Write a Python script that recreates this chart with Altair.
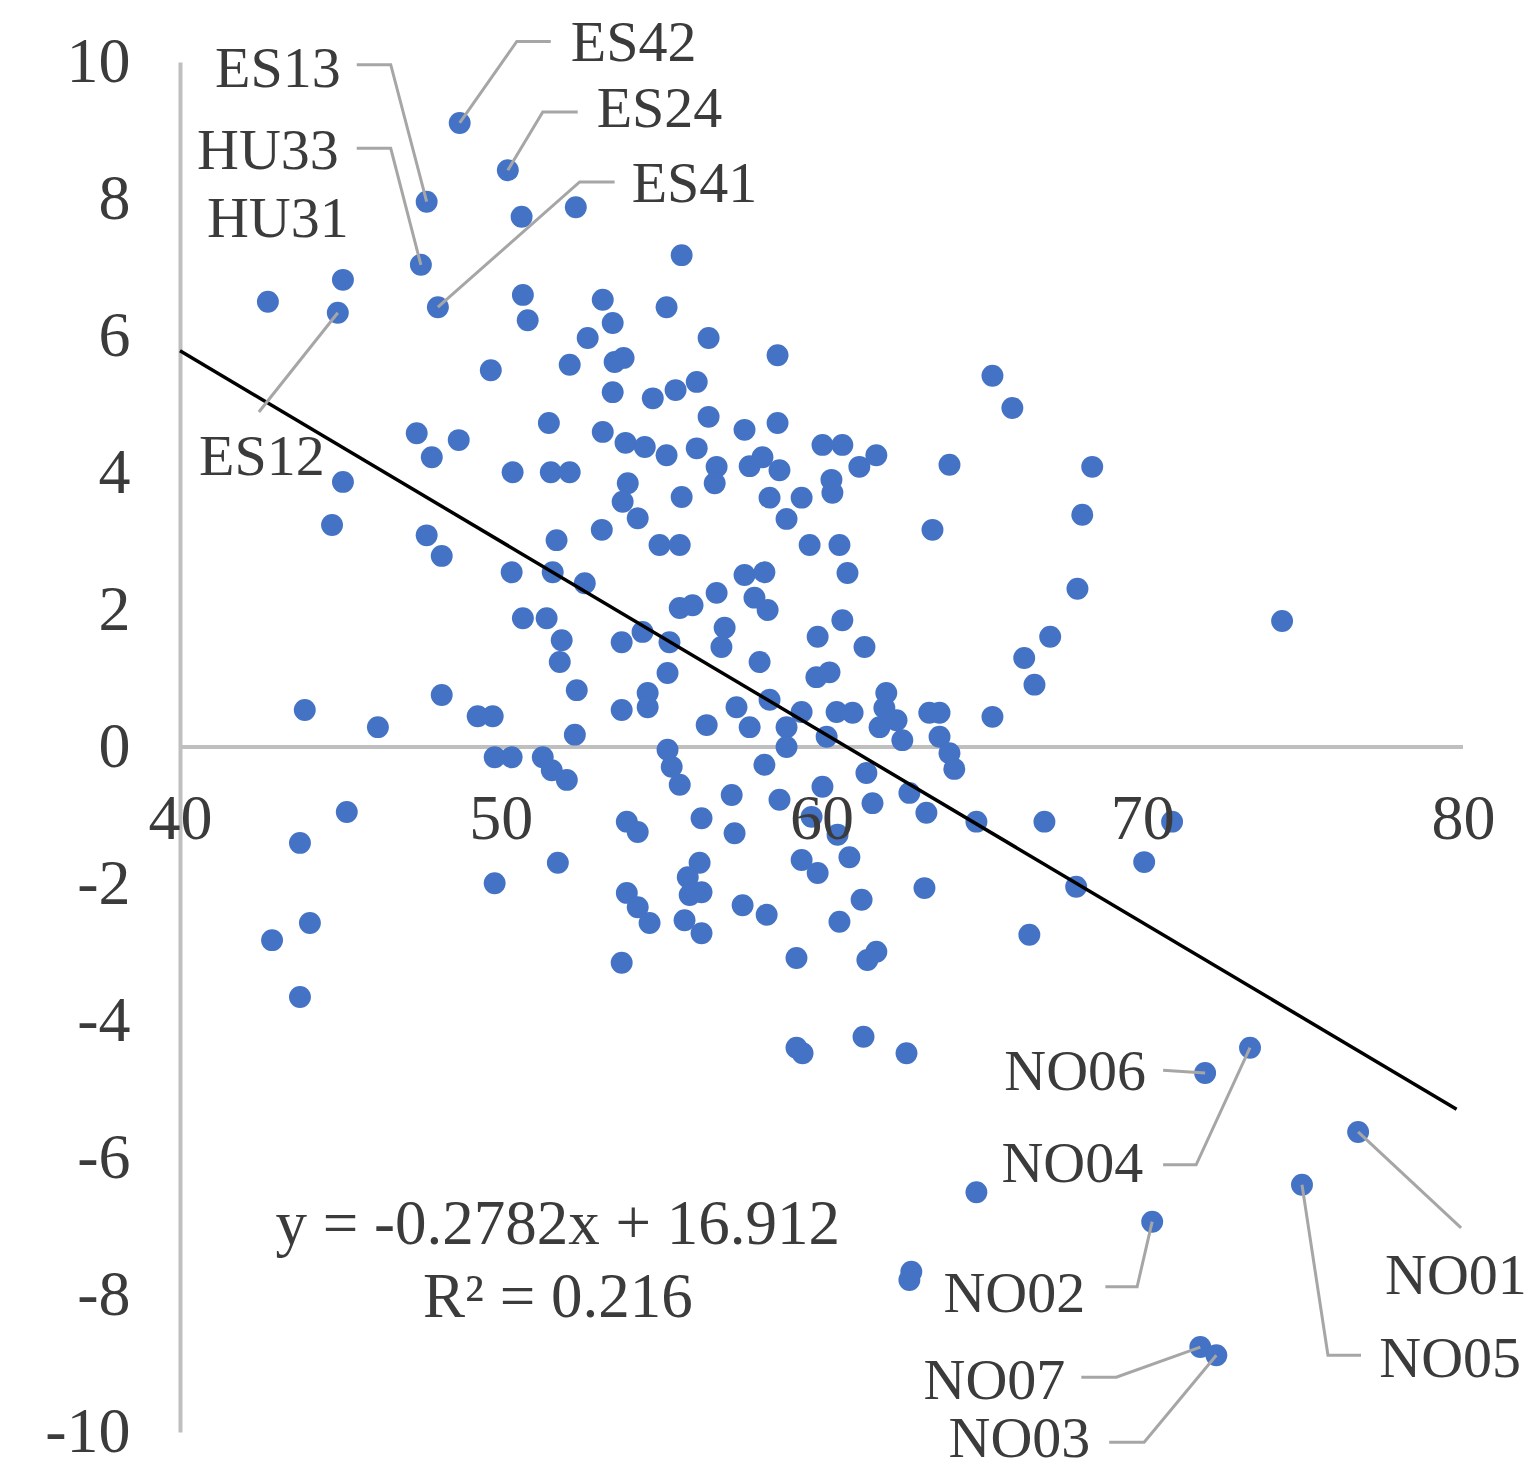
import altair as alt
import pandas as pd

# ---------------- data ----------------
# upper-left / upper cloud
up_x = [48.72, 50.22, 47.69, 50.65, 52.34, 55.64, 47.51, 45.08, 42.74, 44.92, 48.04, 50.69, 50.84,
        53.18, 53.49, 55.17, 52.71, 56.48, 58.63, 49.69, 52.15, 53.55, 53.83, 53.49, 54.74, 55.45,
        56.11, 56.48, 51.50, 53.18, 53.89, 54.49, 55.17, 56.11, 56.73, 56.67, 57.60, 58.63, 47.38,
        47.85, 48.69, 50.37, 51.56, 52.15, 53.96, 45.08, 55.64, 53.80, 54.27, 60.03, 60.65, 57.76,
        58.16, 58.69, 61.71, 61.18, 63.99, 58.38, 59.38, 60.31, 60.34, 58.91]
up_y = [9.11, 8.42, 7.96, 7.74, 7.88, 7.18, 7.04, 6.82, 6.50, 6.34, 6.42, 6.60, 6.23,
        6.53, 6.19, 6.42, 5.97, 5.97, 5.72, 5.50, 5.58, 5.62, 5.68, 5.18, 5.09, 5.21,
        5.33, 4.82, 4.73, 4.60, 4.44, 4.38, 4.26, 4.36, 4.09, 3.85, 4.63, 4.73, 4.58,
        4.23, 4.48, 4.01, 4.01, 4.01, 3.85, 3.87, 3.65, 3.58, 3.34, 4.41, 4.41, 4.10,
        4.23, 4.04, 4.26, 4.09, 4.12, 3.64, 3.64, 3.90, 3.71, 3.33]

# middle-left cloud
midl_x = [51.74, 53.15, 54.95, 55.58, 50.34, 51.62, 52.62, 50.69, 51.43, 51.90, 51.84, 53.77, 54.42,
          55.26, 55.58, 55.98, 56.73, 56.98, 56.88, 55.20, 54.58, 54.58, 52.37, 53.77, 56.42, 49.75,
          49.28, 52.31, 49.81, 50.34, 51.31, 51.59, 52.06, 55.20, 55.33, 55.58]
midl_y = [3.02, 3.17, 2.95, 2.95, 2.55, 2.55, 2.39, 1.88, 1.88, 1.56, 1.24, 1.53, 1.68,
          1.53, 2.03, 2.07, 2.25, 1.74, 1.46, 1.08, 0.79, 0.58, 0.83, 0.54, 0.32, 0.45,
          0.45, 0.18, -0.15, -0.15, -0.15, -0.34, -0.48, -0.04, -0.29, -0.55]

# middle-right cloud
midr_x = [59.63, 60.56, 63.46, 60.81, 57.60, 58.22, 57.91, 58.32, 60.65, 59.88, 61.34, 58.07, 59.84,
          60.25, 62.02, 57.35, 57.76, 58.38, 58.91, 58.91, 59.38, 60.16, 60.47, 60.97, 61.81, 62.34,
          62.52, 63.36, 63.68, 63.68, 63.99, 61.96]
midr_y = [2.95, 2.95, 3.17, 2.54, 2.51, 2.55, 2.18, 2.00, 1.85, 1.61, 1.46, 1.24, 1.02,
          1.09, 0.79, 0.58, 0.29, 0.69, 0.29, 0.00, 0.51, 0.15, 0.51, 0.50, 0.29, 0.39,
          0.10, 0.50, 0.50, 0.15, -0.09, 0.57]

# right-hand points
right_x = [65.33, 65.95, 68.44, 68.13, 67.98, 74.36, 67.13, 66.32, 66.64, 65.33, 64.14, 64.83, 66.95,
           70.93, 70.06, 67.94, 66.48]
right_y = [5.42, 4.95, 4.09, 3.39, 2.31, 1.84, 1.61, 1.30, 0.91, 0.44, -0.32, -1.09, -1.09,
           -1.09, -1.68, -2.04, -2.74]

# lower cloud
low_x = [57.20, 53.93, 54.27, 56.26, 57.29, 51.78, 49.81, 56.20, 55.83, 55.89, 56.26, 53.93, 54.27,
         54.64, 55.73, 56.26, 53.77, 58.22, 58.69, 60.03, 61.40, 61.59, 62.74, 63.27, 59.38, 59.88,
         60.87, 63.21, 61.25, 57.54, 58.29, 60.56, 59.22, 61.71, 61.43, 59.69, 60.50]
low_y = [-0.70, -1.09, -1.24, -1.04, -1.26, -1.69, -1.99, -1.69, -1.90, -2.16, -2.12, -2.13, -2.34,
         -2.57, -2.53, -2.72, -3.15, -0.26, -0.77, -0.58, -0.38, -0.82, -0.67, -0.96, -1.65, -1.84,
         -1.61, -2.06, -2.23, -2.31, -2.45, -2.55, -3.08, -2.99, -3.11, -1.02, -1.28]

# far-left points
left_x = [44.74, 47.69, 48.16, 43.89, 46.17, 48.16, 45.20, 43.74, 44.05, 42.87, 43.74]
left_y = [3.24, 3.09, 2.79, 0.54, 0.29, 0.76, -0.95, -1.40, -2.57, -2.82, -3.65]

# bottom points
bottom_x = [61.31, 59.22, 59.41, 62.65, 71.96, 73.36, 76.73, 64.83, 74.98, 70.31, 62.74, 62.80,
            71.81, 72.31]
bottom_y = [-4.23, -4.39, -4.47, -4.47, -4.76, -4.39, -5.62, -6.50, -6.39, -6.93, -7.78, -7.66,
            -8.76, -8.88]

# region labels (text anchor in data units)
label_names = ["ES42", "ES13", "ES24", "HU33", "HU31", "ES41", "ES12",
               "NO06", "NO04", "NO02", "NO07", "NO03", "NO01", "NO05"]
label_x = [54.14, 43.05, 54.95, 42.74, 43.05, 56.04, 42.55,
           67.91, 67.82, 66.01, 65.39, 66.17, 79.78, 79.60]
label_y = [10.27, 9.88, 9.30, 8.69, 7.69, 8.20, 4.22,
           -4.76, -6.10, -8.00, -9.27, -10.12, -7.74, -8.95]

# leader lines from labels to points
leader_name = ["ES42"] * 3 + ["ES13"] * 3 + ["ES24"] * 3 + ["HU33"] * 3 + ["ES41"] * 3 + \
              ["ES12"] * 2 + ["NO06"] * 2 + ["NO04"] * 3 + ["NO02"] * 3 + ["NO07"] * 3 + \
              ["NO03"] * 3 + ["NO01"] * 2 + ["NO05"] * 3
leader_x = [51.56, 50.50, 48.72, 45.51, 46.57, 47.69, 52.40, 51.31, 50.22, 45.51, 46.57, 47.51,
            53.55, 52.46, 48.04, 42.46, 44.92, 70.65, 71.96, 70.65, 71.68, 73.36, 68.85, 69.84,
            70.31, 68.10, 69.19, 71.81, 68.97, 70.06, 72.31, 79.94, 76.73, 76.82, 75.79, 74.98]
leader_y = [10.30, 10.30, 9.11, 9.96, 9.96, 7.96, 9.27, 9.27, 8.42, 8.74, 8.74, 7.04,
            8.25, 8.25, 6.42, 4.89, 6.34, -4.72, -4.76, -6.10, -6.10, -4.39, -7.88, -7.88,
            -6.93, -9.20, -9.20, -8.76, -10.15, -10.15, -8.88, -7.02, -5.62, -8.88, -8.88, -6.39]
leader_order = [0, 1, 2, 0, 1, 2, 0, 1, 2, 0, 1, 2, 0, 1, 2, 0, 1, 0, 1, 0, 1, 2, 0, 1,
                2, 0, 1, 2, 0, 1, 2, 0, 1, 0, 1, 2]

# trend line y = -0.2782x + 16.912
trend_x = [40.0, 79.8]
trend_y = [5.784, -5.288]

eq_lines = ["y = -0.2782x + 16.912", "R² = 0.216"]
eq_x = [51.78, 51.78]
eq_y = [-6.98, -8.04]

x_ticks = [40, 50, 60, 70, 80]
y_ticks = [-10, -8, -6, -4, -2, 0, 2, 4, 6, 8, 10]

# ---------------- chart ----------------
FONT = "Liberation Serif"
TXT = "#3b3b3b"
BLUE = "#4472C4"
GRAY = "#BFBFBF"

pts = pd.DataFrame({
    "x": up_x + midl_x + midr_x + right_x + low_x + left_x + bottom_x,
    "y": up_y + midl_y + midr_y + right_y + low_y + left_y + bottom_y,
})
lab = pd.DataFrame({"x": label_x, "y": label_y, "t": label_names})
lead = pd.DataFrame({"x": leader_x, "y": leader_y, "g": leader_name, "o": leader_order})
trend = pd.DataFrame({"x": trend_x, "y": trend_y})
eq = pd.DataFrame({"x": eq_x, "y": eq_y, "t": eq_lines})
zero = pd.DataFrame({"x": [x_ticks[0]], "x2": [x_ticks[-1]], "y": [0]})

x_enc = alt.X("x:Q", title=None,
              scale=alt.Scale(domain=[40, 80], nice=False, zero=False),
              axis=alt.Axis(values=x_ticks, grid=False, ticks=False, tickSize=0, domain=False,
                            offset=-685, labelPadding=40, labelFont=FONT, labelFontSize=64,
                            labelColor=TXT, labelFlush=False, labelOverlap=False, zindex=1))
y_enc = alt.Y("y:Q", title=None,
              scale=alt.Scale(domain=[-10, 10], nice=False, zero=False),
              axis=alt.Axis(values=y_ticks, grid=False, ticks=False, tickSize=0, domain=True,
                            domainColor=GRAY, domainWidth=4, labelPadding=50, labelFont=FONT,
                            labelFontSize=64, labelColor=TXT, labelFlush=False,
                            labelOverlap=False, labelExpr="'' + datum.value"))

zero_rule = alt.Chart(zero).mark_rule(color=GRAY, strokeWidth=4).encode(
    x=x_enc, x2="x2:Q", y=y_enc)
points = alt.Chart(pts).mark_circle(color=BLUE, size=480, opacity=1).encode(x=x_enc, y=y_enc)
trend_line = alt.Chart(trend).mark_line(color="black", strokeWidth=3.5).encode(x=x_enc, y=y_enc)
leaders = alt.Chart(lead).mark_line(color="#A6A6A6", strokeWidth=3).encode(
    x=x_enc, y=y_enc, detail="g:N", order="o:Q")
labels = alt.Chart(lab).mark_text(font=FONT, fontSize=58, color=TXT, align="center",
                                  baseline="middle").encode(x=x_enc, y=y_enc, text="t:N")
eq_text = alt.Chart(eq).mark_text(font=FONT, fontSize=63, color=TXT, align="center",
                                  baseline="middle").encode(x=x_enc, y=y_enc, text="t:N")

chart = alt.layer(zero_rule, points, trend_line, leaders, labels, eq_text).properties(
    width=1283, height=1370,
    autosize=alt.AutoSizeParams(type="none"),
    padding={"left": 172, "top": 54, "right": 66, "bottom": 44},
    background="white",
).configure_view(stroke=None)

chart.save("out.html", embed_options={"renderer": "svg", "actions": False})
